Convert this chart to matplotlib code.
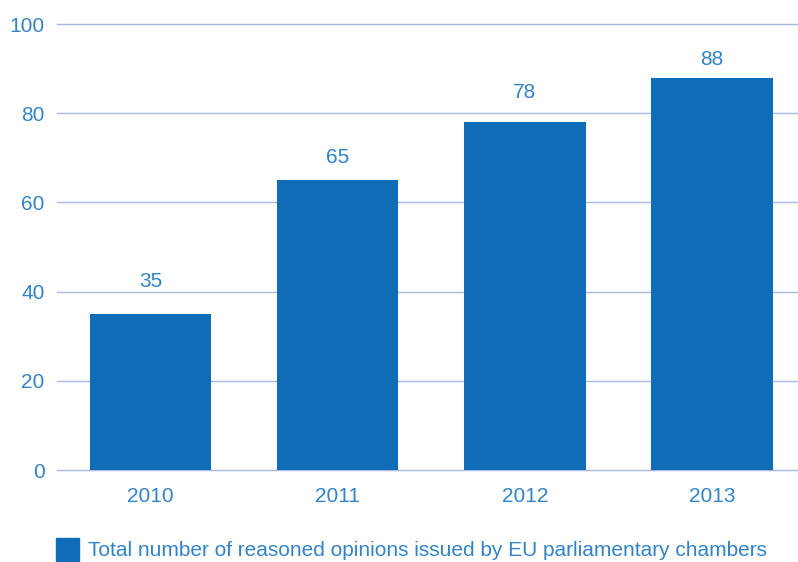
import matplotlib.pyplot as plt
from matplotlib.patches import Rectangle

years = ["2010", "2011", "2012", "2013"]
opinions = [35, 65, 78, 88]
legend_label = "Total number of reasoned opinions issued by EU parliamentary chambers"

bar_color = "#0e6db6"
text_color = "#3383c7"
grid_color = "#a7b6e2"
label_gaps = [27, 17, 24, 13]  # px between bar top and value label

plt.rcParams["font.family"] = ["Liberation Sans", "DejaVu Sans"]

fig = plt.figure(figsize=(7.98, 5.62), dpi=100)
ax = fig.add_axes([57 / 798, 92 / 562, 741 / 798, 446 / 562])

x = range(len(years))
bars = ax.bar(x, opinions, width=0.65, color=bar_color, zorder=3)
for b, v, gap in zip(bars, opinions, label_gaps):
    ax.annotate(str(v), (b.get_x() + b.get_width() / 2, v), xytext=(0, gap),
                textcoords="offset pixels", ha="center", va="baseline",
                fontsize=15, color=text_color)

ax.set_xlim(-0.5, 3.46)
ax.set_ylim(0, 100)
ax.set_yticks(range(0, 101, 20))
ax.set_xticks(list(x))
ax.set_xticklabels(years)
ax.tick_params(length=0, labelsize=15, labelcolor=text_color)
ax.tick_params(axis="y", pad=9)
ax.tick_params(axis="x", pad=12)
ax.grid(True, axis="y", color=grid_color, linewidth=1, zorder=0)
for gl in ax.get_ygridlines():
    gl.set_clip_on(False)
for s in ax.spines.values():
    s.set_visible(False)

# legend
fig.patches.append(Rectangle((56 / 798, 1 / 562), 23 / 798, 23 / 562,
                             transform=fig.transFigure, color=bar_color))
fig.text(88 / 798, 12 / 562, legend_label, fontsize=15, color=text_color,
         va="center", ha="left")

fig.savefig("out.png", dpi=100)
